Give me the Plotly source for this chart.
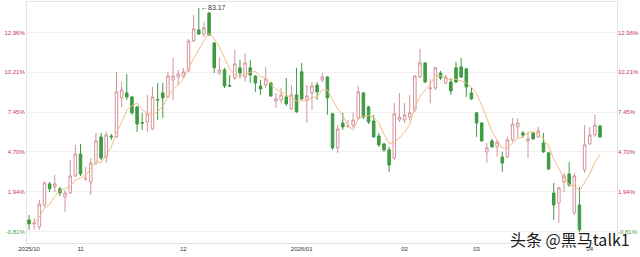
import pandas as pd
import plotly.graph_objects as go

# Trading days (A-share calendar, holidays removed)
holidays = ["2026-01-01", "2026-01-02", "2026-02-16", "2026-02-17", "2026-02-18",
            "2026-02-19", "2026-02-20", "2026-02-23"]
days = [d for d in pd.bdate_range("2025-10-20", "2026-04-03").strftime("%Y-%m-%d") if d not in holidays]

open_ = [72.52, 72.32, 72.17, 73.27, 74.33, 74.18, 74.08, 73.67, 73.87, 74.73,
         75.83, 74.58, 74.43, 75.38, 76.69, 75.68, 76.74, 76.69, 78.65, 78.90,
         78.70, 78.20, 77.41, 77.44, 77.09, 78.57, 78.90, 78.70, 79.55, 79.70,
         79.75, 80.01, 81.51, 82.07, 81.86, 82.92, 81.41, 79.90, 80.06, 79.27,
         79.65, 80.16, 79.70, 80.16, 79.75, 79.25, 79.30, 79.40, 78.50, 78.55,
         78.70, 78.10, 78.80, 79.96, 78.55, 78.90, 79.30, 79.55, 79.70, 77.85,
         76.14, 77.39, 77.22, 77.29, 77.64, 78.90, 78.20, 77.49, 76.74, 76.34,
         76.04, 75.63, 77.54, 77.54, 77.69, 78.05, 79.70, 80.41, 79.10, 79.15,
         79.90, 79.40, 79.45, 80.16, 80.21, 80.11, 78.90, 77.90, 77.39, 75.94,
         76.49, 76.19, 75.68, 75.68, 76.54, 77.19, 76.89, 76.49, 76.89, 76.69,
         76.39, 75.89, 73.87, 73.37, 74.43, 74.83, 72.87, 73.27, 75.03, 76.34,
         76.79, 77.24]
high = [72.77, 72.62, 73.52, 74.45, 74.43, 74.78, 74.18, 74.03, 75.53, 76.29,
        76.34, 75.18, 75.63, 76.89, 76.89, 76.94, 76.84, 79.96, 79.45, 79.85,
        78.75, 78.25, 77.90, 78.80, 79.20, 79.40, 79.40, 79.96, 80.66, 80.06,
        80.16, 81.61, 82.82, 83.17, 82.47, 82.97, 81.46, 80.66, 80.16, 79.80,
        81.06, 80.56, 80.91, 80.56, 79.80, 79.55, 80.21, 79.45, 78.90, 79.15,
        79.65, 79.30, 80.16, 80.41, 79.30, 79.45, 79.45, 79.90, 79.75, 77.90,
        77.29, 77.90, 77.54, 77.90, 79.25, 78.95, 78.25, 77.80, 76.89, 76.39,
        76.19, 78.40, 78.90, 78.40, 78.80, 79.80, 81.11, 80.46, 79.60, 80.21,
        80.01, 79.80, 79.65, 80.46, 80.66, 80.16, 79.15, 77.95, 77.44, 76.39,
        76.59, 76.54, 75.94, 76.69, 77.64, 77.64, 76.99, 76.89, 76.94, 77.19,
        76.89, 75.94, 74.38, 74.18, 74.88, 75.43, 74.88, 74.18, 77.29, 77.19,
        77.80, 77.29]
low = [72.02, 72.02, 72.02, 73.15, 73.92, 73.92, 73.72, 72.92, 73.82, 74.68,
       74.73, 74.48, 73.77, 75.28, 75.53, 75.38, 76.54, 76.64, 78.20, 78.55,
       77.80, 76.94, 77.04, 76.94, 77.04, 77.54, 77.64, 78.65, 78.55, 79.30,
       79.65, 79.96, 81.46, 81.81, 81.71, 81.76, 79.90, 79.80, 79.15, 79.20,
       79.55, 79.65, 79.45, 79.40, 78.95, 78.80, 79.15, 78.70, 78.15, 78.40,
       78.25, 78.05, 77.90, 78.55, 77.39, 78.05, 78.55, 79.45, 77.80, 76.04,
       75.89, 77.04, 77.14, 77.14, 77.54, 77.59, 77.34, 76.66, 76.19, 75.94,
       74.93, 75.53, 77.44, 77.39, 77.54, 77.95, 79.65, 79.40, 78.40, 79.05,
       79.55, 79.35, 78.80, 79.40, 79.65, 78.70, 78.55, 76.69, 76.44, 75.38,
       76.14, 75.68, 74.93, 75.63, 76.44, 76.64, 76.64, 75.63, 76.54, 76.64,
       75.89, 75.03, 72.52, 72.37, 73.92, 74.18, 72.77, 71.92, 74.88, 76.29,
       76.69, 76.64]
close = [72.32, 72.37, 73.32, 74.38, 74.08, 74.33, 73.87, 73.87, 74.73, 75.83,
         74.83, 74.60, 75.38, 76.49, 75.63, 76.79, 76.69, 78.95, 79.05, 78.70,
         77.90, 77.34, 77.39, 77.85, 78.70, 78.55, 78.65, 79.75, 79.75, 79.85,
         79.96, 81.51, 82.12, 81.86, 82.17, 81.81, 80.16, 80.06, 79.25, 79.25,
         80.36, 79.90, 80.41, 79.80, 79.40, 79.10, 79.60, 78.75, 78.60, 78.80,
         78.35, 78.80, 77.95, 78.60, 78.75, 79.25, 78.95, 79.70, 78.65, 76.14,
         77.09, 77.19, 77.24, 77.54, 78.95, 77.69, 77.44, 76.69, 76.29, 76.04,
         75.28, 77.85, 77.69, 77.80, 77.90, 79.75, 80.41, 79.45, 79.15, 80.16,
         79.65, 79.70, 79.00, 79.45, 79.70, 79.20, 78.60, 77.39, 76.49, 76.14,
         76.19, 76.44, 75.38, 76.54, 77.34, 77.39, 76.79, 76.59, 76.59, 76.99,
         75.94, 75.08, 73.27, 74.13, 74.73, 74.28, 74.73, 72.02, 76.29, 76.79,
         77.29, 76.69]

base_price = 72.53
tick_pcts = [-0.81, 1.94, 4.70, 7.45, 10.21, 12.96]
month_ticks = ["2025-10-20", "2025-11-03", "2025-12-01", "2026-01-05",
               "2026-02-02", "2026-03-02", "2026-04-01"]
month_labels = ["2025/10", "11", "12", "2026/01", "02", "03", "04"]

UP = "#d4949b"
DOWN = "#3d9b40"
RED_TXT = "#c0394a"

ma5 = pd.Series(close).rolling(5, min_periods=2).mean()

tickvals = [base_price * (1 + p / 100) for p in tick_pcts]
ticktext = [f'<span style="color:{DOWN if p < 0 else RED_TXT}">{p:.2f}%</span>' for p in tick_pcts]

fig = go.Figure()
fig.add_trace(go.Candlestick(
    x=days, open=open_, high=high, low=low, close=close,
    increasing=dict(line=dict(color=UP, width=1), fillcolor="white"),
    decreasing=dict(line=dict(color=DOWN, width=1), fillcolor=DOWN),
    whiskerwidth=0, showlegend=False, hoverinfo="skip"))
fig.add_trace(go.Scatter(x=days, y=ma5, mode="lines",
                         line=dict(color="#f3bc88", width=1),
                         showlegend=False, hoverinfo="skip"))
fig.add_trace(go.Scatter(x=[days[0]], y=[close[0]], yaxis="y2", mode="markers",
                         marker=dict(opacity=0), showlegend=False, hoverinfo="skip"))

i_max = high.index(max(high))
fig.add_annotation(x=days[i_max], y=max(high), text=f"←{max(high):.2f}",
                   showarrow=False, xanchor="left", yanchor="middle", xshift=0,
                   font=dict(size=7, color="#333"))
fig.add_annotation(xref="paper", yref="paper", x=1.026, y=0.015,
                   text="头条 @黑马talk1", showarrow=False, xanchor="right", yanchor="middle",
                   font=dict(family="Noto Sans CJK SC", size=16, color="#1a1a1a",
                             shadow="0 0 2px white, 0 0 2px white"))

yr = [71.36, 83.47]
fig.update_layout(
    width=640, height=257,
    margin=dict(l=27, r=23, t=2, b=14),
    paper_bgcolor="white", plot_bgcolor="white",
    font=dict(family="Liberation Sans, Arial", size=6, color="#333"),
    boxgap=0.3,
    xaxis=dict(type="category", range=[-0.4, 114.3], tickmode="array",
               tickvals=month_ticks, ticktext=month_labels, showgrid=False,
               rangeslider=dict(visible=False), showline=True, linecolor="#e4e4e4",
               mirror=True, ticks="", tickfont=dict(size=6, color="#333")),
    yaxis=dict(range=yr, tickmode="array", tickvals=tickvals, ticktext=ticktext,
               showgrid=True, gridcolor="#f0f0f0", zeroline=False, showline=True,
               linecolor="#e4e4e4", mirror=True, ticks="",
               tickfont=dict(size=6)),
    yaxis2=dict(range=yr, overlaying="y", side="right", tickmode="array",
                tickvals=tickvals, ticktext=ticktext, showgrid=False, zeroline=False,
                ticks="", tickfont=dict(size=6)),
)

fig.write_html("out.html")
